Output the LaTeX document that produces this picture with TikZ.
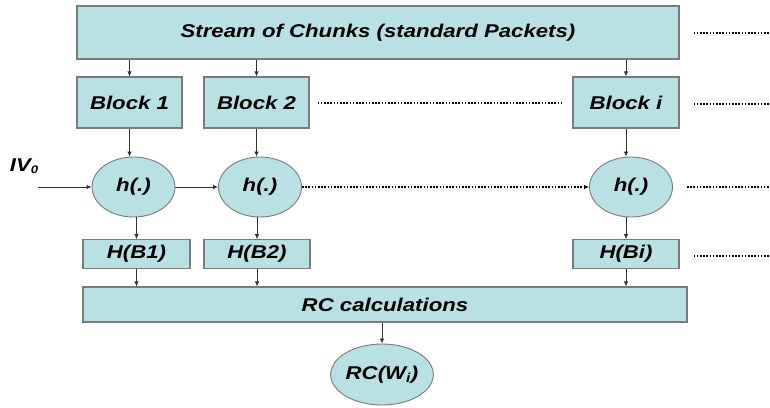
\documentclass[tikz,border=0pt]{standalone}
\usepackage{fontspec}
\setmainfont{Liberation Sans}
\newfontfamily\lblfont{Liberation Sans}[FakeStretch=1.2]
\usetikzlibrary{shapes.geometric,arrows.meta}
\definecolor{boxfill}{RGB}{185,224,227}
\definecolor{boxline}{RGB}{120,124,126}
\begin{document}
\begin{tikzpicture}[x=1pt,y=-1pt,
  lbl/.style={font=\lblfont\fontsize{18.5}{21}\selectfont\bfseries\itshape},
  box/.style={draw=boxline,line width=1.1pt,fill=boxfill,rectangle,inner sep=0pt,lbl},
  hnode/.style={draw=boxline,line width=0.9pt,fill=boxfill,ellipse,inner sep=0pt,minimum width=83pt,minimum height=60pt,lbl},
  arr/.style={line width=0.8pt,draw=black!80,-{Latex[length=5pt,width=4.5pt]}},
  dots/.style={line width=2pt,dash pattern=on 1.7pt off 1.5pt,draw=black},
  dotarr/.style={dots,-{Latex[length=5pt,width=4.5pt]}}]
\useasboundingbox (0,0) rectangle (770,407);
% top row
\node[box,minimum width=602pt,minimum height=53pt] (stream) at (378,32.5) {Stream of Chunks (standard Packets)};
\node[box,minimum width=105pt,minimum height=51pt] (b1) at (129.5,102.5) {Block 1};
\node[box,minimum width=105pt,minimum height=51pt] (b2) at (256.5,102.5) {Block 2};
\node[box,minimum width=106pt,minimum height=51pt] (bi) at (626,102.5) {Block i};
% hash nodes
\node[hnode] (h1) at (133.5,187) {h(.)};
\node[hnode] (h2) at (260,187) {h(.)};
\node[hnode] (hi) at (631,187) {h(.)};
% H boxes
\node[box,minimum width=107pt,minimum height=28.5pt] (H1) at (136.5,254) {H(B1)};
\node[box,minimum width=106pt,minimum height=28.5pt] (H2) at (257,254) {H(B2)};
\node[box,minimum width=106pt,minimum height=28.5pt] (Hi) at (626,254) {H(Bi)};
% RC
\node[box,minimum width=604pt,minimum height=35pt] (rc) at (385,304.5) {RC calculations};
\node[hnode,minimum width=82pt,minimum height=61pt] (rcw) at (382,374.5) {RC(W\textsubscript{i})};
% IV0
\node[lbl,anchor=base] (iv) at (24,171) {IV\raisebox{-0.25ex}{\fontsize{11}{12}\selectfont 0}};
\coordinate (ivstart) at (38,187);
% arrows stream -> blocks
\draw[arr] (stream.south -| b1) -- (b1.north);
\draw[arr] (stream.south -| b2) -- (b2.north);
\draw[arr] (stream.south -| bi) -- (bi.north);
% blocks -> h
\draw[arr] (b1.south) -- (b1.south |- h1.north);
\draw[arr] (b2.south) -- (b2.south |- h2.north);
\draw[arr] (bi.south) -- (bi.south |- hi.north);
% h -> H
\draw[arr] (H1.north |- h1.south) -- (H1.north);
\draw[arr] (H2.north |- h2.south) -- (H2.north);
\draw[arr] (Hi.north |- hi.south) -- (Hi.north);
% H -> rc
\draw[arr] (H1.south) -- (H1.south |- rc.north);
\draw[arr] (H2.south) -- (H2.south |- rc.north);
\draw[arr] (Hi.south) -- (Hi.south |- rc.north);
% rc -> rcw
\draw[arr] (rc.south -| rcw.north) -- (rcw.north);
% chain
\draw[arr] (ivstart) -- (h1.west);
\draw[arr] (h1.east) -- (h2.west);
\draw[dotarr] (h2.east) -- (hi.west);
\draw[dots] ([xshift=8pt]b2.east) -- ([xshift=-9pt]bi.west);
% trailing dots
\coordinate (e1) at (770,32.5);
\coordinate (e2) at (770,104);
\coordinate (e3) at (770,187);
\coordinate (e4) at (770,256);
\draw[dots] ([xshift=14pt]stream.east |- e1) -- (e1);
\draw[dots] ([xshift=14pt]bi.east |- e2) -- (e2);
\draw[dots] ([xshift=14pt]hi.east |- e3) -- (e3);
\draw[dots] ([xshift=14pt]Hi.east |- e4) -- (e4);
\end{tikzpicture}
\end{document}
